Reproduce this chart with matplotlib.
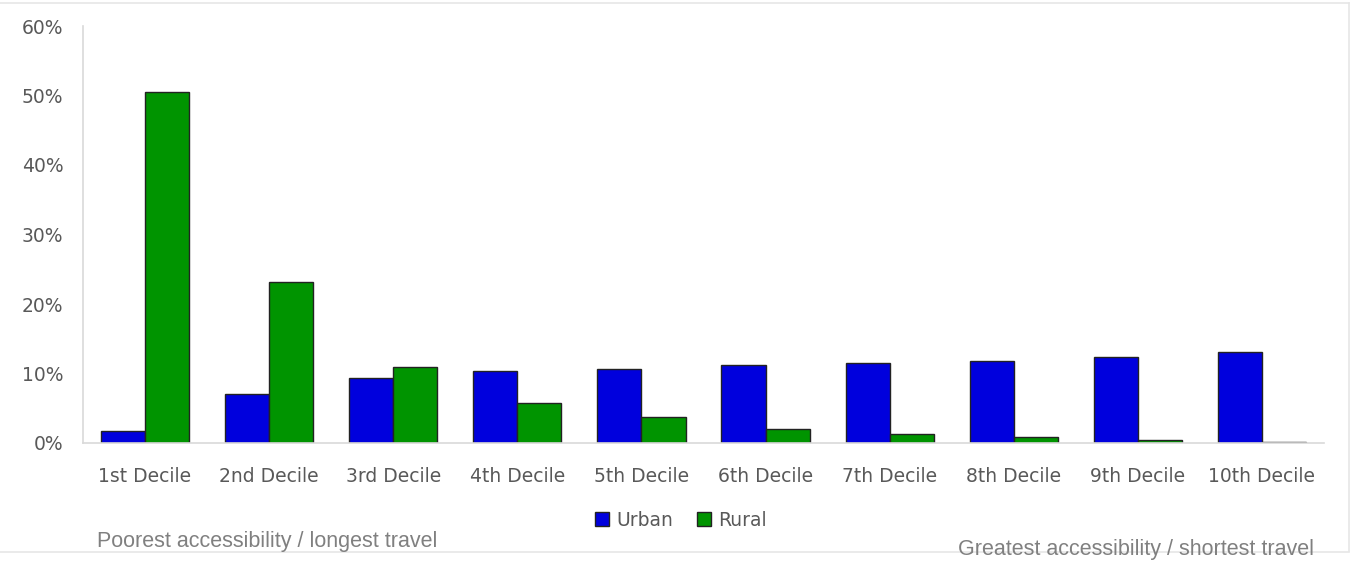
import matplotlib.pyplot as plt
import numpy as np
from matplotlib.lines import Line2D

deciles = ['1st Decile', '2nd Decile', '3rd Decile', '4th Decile', '5th Decile',
           '6th Decile', '7th Decile', '8th Decile', '9th Decile', '10th Decile']
urban = [1.7, 7.0, 9.4, 10.3, 10.7, 11.2, 11.5, 11.8, 12.4, 13.1]
rural = [50.5, 23.2, 11.0, 5.8, 3.7, 2.0, 1.3, 0.9, 0.4, 0.1]

W, H = 1351, 562
fig = plt.figure(figsize=(W / 100, H / 100), dpi=100)
ax = fig.add_axes([83 / W, 1 - 443 / H, 1241 / W, (443 - 26) / H])

x = np.arange(len(deciles))
bw = 0.355
ax.bar(x - bw / 2, urban, bw, color='#0000DD', edgecolor='#222222', linewidth=1, label='Urban')
ax.bar(x + bw / 2, rural, bw, color='#009400', edgecolor='#222222', linewidth=1, label='Rural')

ax.set_xlim(-0.5, 9.5)
ax.set_ylim(0, 60)
ax.set_yticks(range(0, 61, 10))
ax.set_yticklabels([f'{v}%' for v in range(0, 61, 10)])
ax.set_xticks(x)
ax.set_xticklabels(deciles)
ax.tick_params(length=0, labelsize=13.5, colors='#595959')
ax.tick_params(axis='x', pad=17)
ax.tick_params(axis='y', pad=14)
for s in ['top', 'right']:
    ax.spines[s].set_visible(False)
for s in ['left', 'bottom']:
    ax.spines[s].set_color('#D9D9D9')
    ax.spines[s].set_linewidth(1.2)

leg = ax.legend(loc='center', bbox_to_anchor=(681 / W, 1 - 520 / H), bbox_transform=fig.transFigure,
                ncol=2, frameon=False, fontsize=13.5, handlelength=0.75, handleheight=0.75,
                handletextpad=0.35, columnspacing=1.3)
for t in leg.get_texts():
    t.set_color('#595959')

fig.text(97 / W, 1 - 542 / H, 'Poorest accessibility / longest travel', family='Liberation Sans',
         fontsize=15.5, color='#808080', ha='left', va='center')
fig.text(1314 / W, 1 - 550 / H, 'Greatest accessibility / shortest travel', family='Liberation Sans',
         fontsize=15.5, color='#808080', ha='right', va='center')

# faint outer frame
fig.add_artist(Line2D([0, 1349 / W], [1 - 3 / H] * 2, color='#E6E6E6', lw=1.2))
fig.add_artist(Line2D([1349 / W] * 2, [1 - 3 / H, 1 - 551 / H], color='#E6E6E6', lw=1.2))
fig.add_artist(Line2D([0, 1349 / W], [1 - 552 / H] * 2, color='#E6E6E6', lw=1.2))

fig.savefig('out.png', dpi=100)
